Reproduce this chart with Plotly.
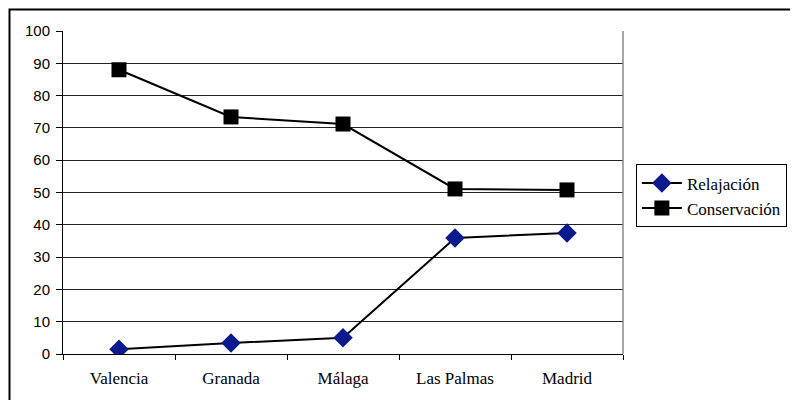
import plotly.graph_objects as go

categories = ["Valencia", "Granada", "Málaga", "Las Palmas", "Madrid"]
relajacion = [1.5, 3.4, 5.0, 35.9, 37.5]
conservacion = [88.0, 73.4, 71.2, 51.1, 50.8]
y_ticks = [0, 10, 20, 30, 40, 50, 60, 70, 80, 90, 100]

SERIF = "Liberation Serif"
SANS = "Liberation Sans"

fig = go.Figure()
fig.add_trace(go.Scatter(
    x=categories, y=relajacion, name="Relajación", mode="lines+markers",
    line=dict(color="black", width=2),
    marker=dict(symbol="diamond", size=15, color="#0b1a8e", line=dict(width=0)),
))
fig.add_trace(go.Scatter(
    x=categories, y=conservacion, name="Conservación", mode="lines+markers",
    line=dict(color="black", width=2),
    marker=dict(symbol="square", size=15, color="black", line=dict(width=0)),
))

fig.update_layout(
    width=798, height=400,
    margin=dict(l=55, r=183, t=23, b=54),
    paper_bgcolor="white", plot_bgcolor="white",
    font=dict(family=SERIF),
    showlegend=True,
    legend=dict(
        x=1.023, y=0.587, xanchor="left", yanchor="top",
        bordercolor="black", borderwidth=1, bgcolor="white",
        font=dict(family=SERIF, size=17, color="black"),
        tracegroupgap=0, itemwidth=40,
    ),
    xaxis=dict(
        type="category", tickson="boundaries", ticks="outside", ticklen=5,
        tickcolor="black", showline=True, linecolor="black", linewidth=1,
        showgrid=False, tickfont=dict(family=SERIF, size=17, color="black"),
        ticklabelstandoff=9,
        range=[-0.5, 4.5],
    ),
    yaxis=dict(
        range=[0, 100], tickvals=y_ticks, ticks="outside", ticklen=6,
        tickcolor="black", showline=True, linecolor="black", linewidth=1,
        showgrid=True, gridcolor="#222222", gridwidth=1, zeroline=False,
        tickfont=dict(family=SANS, size=15, color="black"),
        ticklabelstandoff=3,
    ),
    shapes=[
        dict(type="line", xref="paper", yref="paper", x0=1, x1=1, y0=0, y1=1,
             line=dict(color="#888888", width=1.5)),
        dict(type="rect", xref="paper", yref="paper",
             x0=(9.5 - 63) / 560, x1=(810 - 63) / 560,
             y0=(354 - 415) / 323, y1=(354 - 9.5) / 323,
             line=dict(color="black", width=2), fillcolor="rgba(0,0,0,0)", layer="below"),
    ],
)

fig.write_html("out.html")
